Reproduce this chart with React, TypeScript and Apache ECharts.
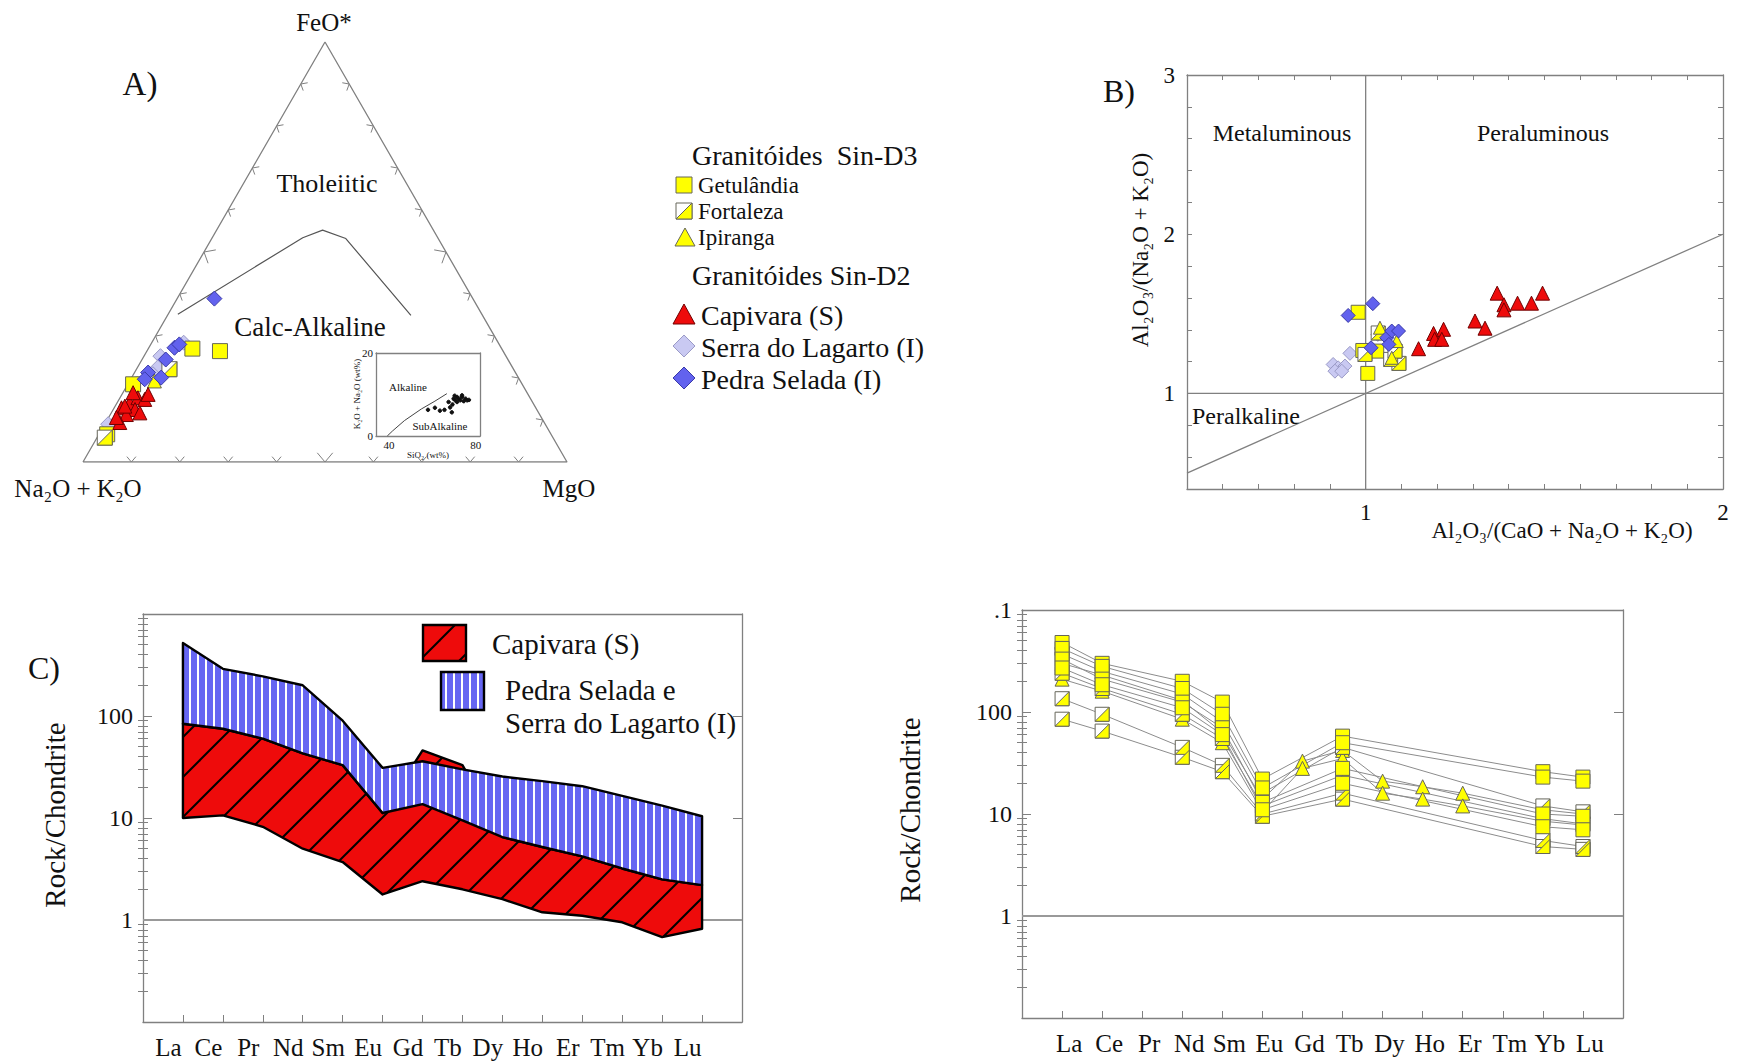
import React, { useEffect, useRef } from 'react';
import * as echarts from 'echarts';

const FONT = '"Liberation Serif", "Times New Roman", Times, serif';
const INK = '#111111';
const FRAME = '#808080';
const YELLOW = '#ffff00';
const YELLOW_EDGE = '#66665a';
const RED = '#ee0b0b';
const RED_EDGE = '#700000';
const BLUE = '#6262ee';
const BLUE_EDGE = '#3a3aa8';
const LILAC = '#c9c9f2';
const LILAC_EDGE = '#9a9ac6';
const BAND_BLUE = '#6666f2';

// ===== Panel A: AFM ternary, points as [A = Na2O+K2O, F = FeO*, M = MgO] in % =====
const AFM_VERTICES = [[100, 0, 0], [0, 0, 100], [0, 100, 0], [100, 0, 0]];
const AFM_TICKS = [0.1, 0.2, 0.3, 0.4, 0.5, 0.6, 0.7, 0.8, 0.9];
const AFM_BOUNDARY = [[62.8, 35.2, 2.0], [27.9, 53.4, 18.7], [22.9, 55.2, 21.9], [19.1, 53.2, 27.7], [14.8, 34.9, 50.3]];
const AFM_GETULANDIA = [[63.9, 27.0, 9.1], [58.5, 26.4, 15.1], [80.4, 18.5, 1.1], [91.7, 6.6, 1.7]];
const AFM_FORTALEZA = [[71.1, 22.1, 6.8], [92.6, 5.8, 1.6]];
const AFM_IPIRANGA = [[75.6, 19.3, 5.1]];
const AFM_CAPIVARA = [[85.6, 12.9, 1.5], [83.3, 14.1, 2.6], [81.0, 15.3, 3.7], [79.8, 14.9, 5.3], [83.0, 12.5, 4.5], [85.4, 11.3, 3.3], [87.7, 9.4, 2.9], [82.4, 11.7, 5.9], [84.7, 13.3, 2.0], [81.4, 16.5, 2.1], [78.5, 16.1, 5.4], [87.8, 10.6, 1.6]];
const AFM_SERRA = [[65.0, 28.4, 6.6], [71.4, 25.2, 3.4], [73.3, 22.5, 4.2], [75.1, 20.9, 4.0], [90.3, 9.0, 0.7]];
const AFM_PEDRA = [[53.4, 38.9, 7.7], [67.5, 27.2, 5.3], [66.1, 28.0, 5.9], [70.7, 24.4, 4.9], [73.8, 20.1, 6.1], [75.9, 21.3, 2.8], [77.4, 19.7, 2.9]];

// inset TAS (SiO2 vs K2O+Na2O)
const TAS_DIVIDER = [[39.2, 0], [41.6, 1.2], [47.1, 3.7], [54.9, 6.5], [61.2, 8.4], [66.7, 10.2]];
const TAS_SAMPLES = [[58.0, 6.3], [61.2, 6.8], [63.5, 6.1], [65.6, 6.3], [68.2, 6.9], [69.0, 5.7], [67.5, 8.2], [69.3, 7.6], [69.8, 9.0], [70.6, 8.6], [71.4, 8.2], [72.2, 9.0], [72.9, 8.6], [73.7, 9.4], [74.5, 8.4], [75.3, 9.0], [76.1, 8.6], [76.9, 8.7], [73.7, 9.8], [71.4, 9.4], [70.3, 9.7]];
const TAS_X_LABELS = [40, 80];

// ===== Panel B: A/CNK vs A/NK =====
const ASI_VERTICAL = [[1, 0.4], [1, 3]];
const ASI_HORIZONTAL = [[0.5, 1], [2, 1]];
const ASI_DIAGONAL = [[0.5, 0.5], [2, 2]];
const ASI_X_LABELS = [1, 2];
const ASI_Y_LABELS = [1, 2, 3];
const ASI_CAPIVARA = [[1.148, 1.281], [1.19, 1.377], [1.218, 1.403], [1.193, 1.34], [1.213, 1.34], [1.306, 1.455], [1.334, 1.41], [1.368, 1.63], [1.387, 1.557], [1.387, 1.525], [1.425, 1.567], [1.464, 1.567], [1.495, 1.63]];
const ASI_PEDRA = [[0.951, 1.49], [1.02, 1.564], [1.015, 1.287], [1.059, 1.35], [1.073, 1.392], [1.092, 1.392], [1.065, 1.308]];
const ASI_SERRA = [[0.909, 1.182], [0.923, 1.161], [0.942, 1.172], [0.956, 1.252], [0.914, 1.14], [0.933, 1.14], [1.034, 1.371]];
const ASI_GETULANDIA = [[0.979, 1.51], [1.006, 1.126], [0.992, 1.27], [1.031, 1.266]];
const ASI_FORTALEZA = [[1.035, 1.38], [1.07, 1.214], [1.093, 1.189], [0.998, 1.245], [1.082, 1.266]];
const ASI_IPIRANGA = [[1.04, 1.413], [1.087, 1.329], [1.073, 1.224]];

// ===== Panels C and D: chondrite-normalised REE =====
const REE = ['La', 'Ce', 'Pr', 'Nd', 'Sm', 'Eu', 'Gd', 'Tb', 'Dy', 'Ho', 'Er', 'Tm', 'Yb', 'Lu'];
const UNIT_LINE = [[0, 1], [15, 1]];
const C_Y_LABELS = [1, 10, 100];
const D_Y_LABELS = [1, 10, 100, 1000];
const D_Y_TEXT = ['1', '10', '100', '.1'];
const LOG_DECADES = [0.1, 1, 10, 100, 1000];

const C_CAPIVARA_UPPER = [84, 75, 60, 43, 33, 11.2, 46, 33, 6.5, 5.2, 4.2, 3.2, 2.5, 2.2];
const C_CAPIVARA_LOWER = [10, 10.6, 8.2, 5.0, 3.7, 1.78, 2.4, 2.0, 1.6, 1.19, 1.1, 0.95, 0.68, 0.82];
const C_PEDRA_UPPER = [520, 290, 245, 200, 90, 31, 36, 30, 25.5, 23, 20.5, 16.5, 13.2, 10.4];
const C_PEDRA_LOWER = [84, 75, 60, 43, 33, 11.2, 13.7, 9.5, 6.5, 5.2, 4.2, 3.2, 2.5, 2.2];

const _ = null;
const D_GETULANDIA = [
  [480, 300, _, 200, 125, 22, _, 58, _, _, _, _, 26, 23],
  [420, 280, _, 170, 95, 18, _, 50, _, _, _, _, 23, 21],
  [330, 210, _, 125, 70, 13, _, 28, _, _, _, _, 10, 9.5],
  [270, 185, _, 110, 60, 11, _, 20, _, _, _, _, 7.5, 7],
];
const D_FORTALEZA = [
  [370, 250, _, 150, 80, 16, _, 45, _, _, _, _, 12, 10.5],
  [240, 170, _, 95, 55, 12, _, 24, _, _, _, _, 9, 8],
  [135, 95, _, 45, 30, 10, _, 16, _, _, _, _, 5.5, 4.8],
  [85, 65, _, 36, 26, 9.5, _, 14, _, _, _, _, 4.8, 4.5],
];
const D_IPIRANGA = [
  [300, 230, _, 130, 63, 14, 33, 42, 21, 18.5, 16, _, 11, 10],
  [210, 160, _, 85, 50, 10.5, 28, 35, 16, 14, 12, _, 8.5, 7.8],
];

// ---------- helpers ----------
const tern = (p: number[]) => [(p[2] + p[1] / 2) / 100, p[1] / 100];
const near = (a: number, b: number) => Math.abs(a - b) < 1e-6;
const pickLabel = (list: number[]) => (v: number) => (list.some((l) => near(v, l)) ? String(Math.round(v)) : '');
const toPoints = (rows: (number | null)[][]) => {
  const out: number[][] = [];
  rows.forEach((r) => r.forEach((v, i) => { if (v != null) out.push([i + 1, v]); }));
  return out;
};
const toLine = (r: (number | null)[]) => r.map((v, i) => (v == null ? null : [i + 1, v])).filter((p) => p) as number[][];
const HALF = 'path://M10,0L10,10L0,10Z';

function stripePattern() {
  const c = document.createElement('canvas');
  c.width = 8; c.height = 8;
  const g = c.getContext('2d')!;
  g.fillStyle = BAND_BLUE; g.fillRect(0, 0, 8, 8);
  g.fillStyle = '#ffffff'; g.fillRect(5, 0, 2, 8);
  return { image: c, repeat: 'repeat', imageWidth: 8, imageHeight: 8 };
}
function hatchPattern() {
  const s = 40;
  const c = document.createElement('canvas');
  c.width = s; c.height = s;
  const g = c.getContext('2d')!;
  g.fillStyle = RED; g.fillRect(0, 0, s, s);
  g.strokeStyle = '#000'; g.lineWidth = 2;
  [-1, 0, 1].forEach((k) => {
    g.beginPath(); g.moveTo(k * s - 2, s + 2); g.lineTo(k * s + s + 2, -2); g.stroke();
  });
  return { image: c, repeat: 'repeat', imageWidth: s, imageHeight: s };
}

const T = (text: string, x: number, y: number, size: number, align = 'center', rot = 0) => ({
  type: 'text', x, y, rotation: rot, silent: true, z: 50,
  style: { text, fill: INK, font: `${size}px ${FONT}`, align, textAlign: align, verticalAlign: 'middle', textVerticalAlign: 'middle' },
});

function buildOption() {
  const hatch = hatchPattern();
  const stripes = stripePattern();
  const aLine = { show: true, onZero: false, lineStyle: { color: FRAME, width: 1.3 } };
  const lab = (size: number, margin: number, extra = {}) => ({ fontSize: size, fontFamily: FONT, color: INK, margin, ...extra });
  const noSplit = { show: false };

  const minorLog: number[] = [];
  LOG_DECADES.slice(0, 4).forEach((d) => { for (let k = 2; k <= 9; k++) minorLog.push(k * d); });

  const logAxes = (g: number, labels: number[], fmt: (v: number) => string) => {
    const base = { gridIndex: g, type: 'log', logBase: 10, min: 0.1, max: 1000, splitLine: noSplit };
    return [
      { ...base, position: 'left', axisLine: aLine, axisTick: { inside: true, length: 9, customValues: LOG_DECADES, lineStyle: { color: FRAME } }, axisLabel: lab(24, 10, { customValues: labels, formatter: fmt }) },
      { ...base, position: 'left', axisLine: { show: false }, axisTick: { inside: true, length: 5, customValues: minorLog, lineStyle: { color: FRAME } }, axisLabel: { show: false } },
      { ...base, position: 'right', axisLine: aLine, axisTick: { inside: true, length: 9, customValues: LOG_DECADES, lineStyle: { color: FRAME } }, axisLabel: { show: false } },
      { ...base, position: 'right', axisLine: { show: false }, axisTick: { inside: true, length: 5, customValues: minorLog, lineStyle: { color: FRAME } }, axisLabel: { show: false } },
    ];
  };

  const grid = [
    { left: 83, top: 42, width: 484, height: 420 },
    { left: 376, top: 353, width: 104, height: 83 },
    { left: 1187, top: 75, width: 536, height: 414 },
    { left: 143, top: 614, width: 599, height: 408 },
    { left: 1022, top: 610, width: 601, height: 408 },
  ];

  const reeFmt = (v: number) => REE[Math.round(v) - 1] || '';
  const xAxis = [
    { gridIndex: 0, type: 'value', min: 0, max: 1, show: false },
    { gridIndex: 1, type: 'value', min: 34, max: 82, interval: 2, position: 'bottom', axisLine: aLine, axisTick: { show: false }, splitLine: noSplit, axisLabel: lab(11, 3, { formatter: pickLabel(TAS_X_LABELS) }) },
    { gridIndex: 1, type: 'value', min: 34, max: 82, position: 'top', axisLine: aLine, axisTick: { show: false }, splitLine: noSplit, axisLabel: { show: false } },
    { gridIndex: 2, type: 'value', min: 0.5, max: 2, interval: 0.1, position: 'bottom', axisLine: aLine, axisTick: { inside: true, length: 5, lineStyle: { color: FRAME } }, splitLine: noSplit, axisLabel: lab(23, 12, { formatter: pickLabel(ASI_X_LABELS) }) },
    { gridIndex: 2, type: 'value', min: 0.5, max: 2, interval: 0.1, position: 'top', axisLine: aLine, axisTick: { inside: true, length: 5, lineStyle: { color: FRAME } }, splitLine: noSplit, axisLabel: { show: false } },
    { gridIndex: 3, type: 'value', min: 0, max: 15, interval: 1, position: 'bottom', axisLine: aLine, axisTick: { inside: true, length: 7, lineStyle: { color: FRAME } }, splitLine: noSplit, axisLabel: lab(25, 13, { formatter: reeFmt, padding: [0, 29, 0, 0] }) },
    { gridIndex: 3, type: 'value', min: 0, max: 15, position: 'top', axisLine: aLine, axisTick: { show: false }, splitLine: noSplit, axisLabel: { show: false } },
    { gridIndex: 4, type: 'value', min: 0, max: 15, interval: 1, position: 'bottom', axisLine: aLine, axisTick: { inside: true, length: 7, lineStyle: { color: FRAME } }, splitLine: noSplit, axisLabel: lab(25, 13, { formatter: reeFmt, padding: [0, 0, 0, 14] }) },
    { gridIndex: 4, type: 'value', min: 0, max: 15, position: 'top', axisLine: aLine, axisTick: { show: false }, splitLine: noSplit, axisLabel: { show: false } },
  ];

  const cFmt = (v: number) => (C_Y_LABELS.some((l) => near(v, l)) ? String(Math.round(v)) : '');
  const dFmt = (v: number) => {
    const i = D_Y_LABELS.findIndex((l) => Math.abs(v - l) < 1e-6 * l);
    return i >= 0 ? D_Y_TEXT[i] : '';
  };
  const yAxis = [
    { gridIndex: 0, type: 'value', min: 0, max: 1, show: false },
    { gridIndex: 1, type: 'value', min: 0, max: 20, interval: 20, position: 'left', axisLine: aLine, axisTick: { show: false }, splitLine: noSplit, axisLabel: lab(11, 3) },
    { gridIndex: 1, type: 'value', min: 0, max: 20, position: 'right', axisLine: aLine, axisTick: { show: false }, splitLine: noSplit, axisLabel: { show: false } },
    { gridIndex: 2, type: 'value', min: 0.4, max: 3, interval: 0.2, position: 'left', axisLine: aLine, axisTick: { inside: true, length: 5, lineStyle: { color: FRAME } }, splitLine: noSplit, axisLabel: lab(23, 12, { formatter: pickLabel(ASI_Y_LABELS) }) },
    { gridIndex: 2, type: 'value', min: 0.4, max: 3, interval: 0.2, position: 'right', axisLine: aLine, axisTick: { inside: true, length: 5, lineStyle: { color: FRAME } }, splitLine: noSplit, axisLabel: { show: false } },
    ...logAxes(3, C_Y_LABELS, cFmt),
    ...logAxes(4, D_Y_LABELS, dFmt),
  ];

  const sc = (xi: number, yi: number, data: number[][], symbol: string, size: number, color: string, edge: string) => ({
    type: 'scatter', xAxisIndex: xi, yAxisIndex: yi, data, symbol, symbolSize: size, silent: true, z: 5,
    itemStyle: { color, borderColor: edge, borderWidth: 1, opacity: 1 },
  });
  const ln = (xi: number, yi: number, data: number[][], color: string, width: number, z = 2) => ({
    type: 'line', xAxisIndex: xi, yAxisIndex: yi, data, symbol: 'none', silent: true, z,
    lineStyle: { color, width }, emphasis: { disabled: true },
  });

  const TRI = [[0, 0], [1, 0], [0.5, 1]];
  const tickData: number[][] = [];
  [0, 1, 2].forEach((e) => AFM_TICKS.forEach((t) => tickData.push([e, t])));

  const series: any[] = [];
  // ---- Panel A
  series.push(ln(0, 0, AFM_VERTICES.map(tern), FRAME, 1.3, 1));
  series.push({
    type: 'custom', xAxisIndex: 0, yAxisIndex: 0, data: tickData, silent: true, z: 1,
    renderItem: (params: any, api: any) => {
      const e = api.value(0), t = api.value(1);
      const a = TRI[e], b = TRI[(e + 1) % 3];
      const p = api.coord([a[0] + (b[0] - a[0]) * t, a[1] + (b[1] - a[1]) * t]);
      const pa = api.coord(a), pb = api.coord(b), c = api.coord([0.5, 1 / 3]);
      let dx = pb[0] - pa[0], dy = pb[1] - pa[1];
      const L = Math.hypot(dx, dy); dx /= L; dy /= L;
      let nx = -dy, ny = dx;
      if ((c[0] - p[0]) * nx + (c[1] - p[1]) * ny < 0) { nx = -nx; ny = -ny; }
      const len = near(t, 0.5) ? 12 : 7;
      const ang = 0.7;
      const arm = (s: number) => [p[0] + len * (nx * Math.cos(ang) + s * dx * Math.sin(ang)), p[1] + len * (ny * Math.cos(ang) + s * dy * Math.sin(ang))];
      return { type: 'polyline', shape: { points: [arm(-1), p, arm(1)] }, style: { stroke: FRAME, lineWidth: 1, fill: 'none' } };
    },
  });
  series.push(ln(0, 0, AFM_BOUNDARY.map(tern), '#555', 1.2));
  series.push(sc(0, 0, AFM_SERRA.map(tern), 'diamond', 15, LILAC, LILAC_EDGE));
  series.push(sc(0, 0, AFM_GETULANDIA.map(tern), 'rect', 15, YELLOW, YELLOW_EDGE));
  series.push(sc(0, 0, AFM_FORTALEZA.map(tern), 'rect', 15, '#ffffff', YELLOW_EDGE));
  series.push(sc(0, 0, AFM_FORTALEZA.map(tern), HALF, 15, YELLOW, YELLOW_EDGE));
  series.push(sc(0, 0, AFM_IPIRANGA.map(tern), 'triangle', 14, YELLOW, YELLOW_EDGE));
  series.push(sc(0, 0, AFM_CAPIVARA.map(tern), 'triangle', 14, RED, RED_EDGE));
  series.push(sc(0, 0, AFM_PEDRA.map(tern), 'diamond', 15, BLUE, BLUE_EDGE));
  // inset
  series.push(ln(1, 1, TAS_DIVIDER, '#444', 1));
  series.push(sc(1, 1, TAS_SAMPLES, 'circle', 3.5, '#111', '#111'));

  // ---- Panel B
  series.push(ln(3, 3, ASI_VERTICAL, FRAME, 1.3));
  series.push(ln(3, 3, ASI_HORIZONTAL, FRAME, 1.3));
  series.push(ln(3, 3, ASI_DIAGONAL, FRAME, 1.3));
  series.push(sc(3, 3, ASI_SERRA, 'diamond', 14, LILAC, LILAC_EDGE));
  series.push(sc(3, 3, ASI_GETULANDIA, 'rect', 14, YELLOW, YELLOW_EDGE));
  series.push(sc(3, 3, ASI_FORTALEZA, 'rect', 14, '#ffffff', YELLOW_EDGE));
  series.push(sc(3, 3, ASI_FORTALEZA, HALF, 14, YELLOW, YELLOW_EDGE));
  series.push(sc(3, 3, ASI_IPIRANGA, 'triangle', 13, YELLOW, YELLOW_EDGE));
  series.push(sc(3, 3, ASI_PEDRA, 'diamond', 14, BLUE, BLUE_EDGE));
  series.push(sc(3, 3, ASI_CAPIVARA, 'triangle', 14, RED, RED_EDGE));

  // ---- Panel C
  const band = (upper: number[], lower: number[], fill: any) => ({
    type: 'custom', xAxisIndex: 5, yAxisIndex: 5, data: [[1, 1]], silent: true, z: 3,
    renderItem: (params: any, api: any) => {
      const pts: number[][] = [];
      upper.forEach((v, i) => pts.push(api.coord([i + 1, v])));
      for (let i = lower.length - 1; i >= 0; i--) pts.push(api.coord([i + 1, lower[i]]));
      return { type: 'polygon', shape: { points: pts }, style: { fill, stroke: '#000', lineWidth: 2.4, lineJoin: 'round' } };
    },
  });
  series.push(ln(5, 5, UNIT_LINE, '#999', 2));
  series.push(band(C_CAPIVARA_UPPER, C_CAPIVARA_LOWER, hatch));
  series.push(band(C_PEDRA_UPPER, C_PEDRA_LOWER, stripes));

  // ---- Panel D
  series.push(ln(7, 9, UNIT_LINE, '#999', 2));
  [...D_IPIRANGA, ...D_FORTALEZA, ...D_GETULANDIA].forEach((r) => series.push(ln(7, 9, toLine(r), '#8c8c8c', 1, 3)));
  series.push(sc(7, 9, toPoints(D_IPIRANGA), 'triangle', 14, YELLOW, YELLOW_EDGE));
  series.push(sc(7, 9, toPoints(D_FORTALEZA), 'rect', 14, '#ffffff', YELLOW_EDGE));
  series.push(sc(7, 9, toPoints(D_FORTALEZA), HALF, 14, YELLOW, YELLOW_EDGE));
  series.push(sc(7, 9, toPoints(D_GETULANDIA), 'rect', 14, YELLOW, YELLOW_EDGE));

  const graphic: any[] = [
    // Panel A texts
    T('FeO*', 324, 22, 25),
    T('A)', 140, 84, 33),
    T('Tholeiitic', 327, 183, 26),
    T('Calc-Alkaline', 310, 327, 27),
    T('Na₂O + K₂O', 78, 488, 25),
    T('MgO', 569, 488, 25),
    T('Alkaline', 408, 387, 11),
    T('SubAlkaline', 440, 426, 11),
    T('K₂O + Na₂O (wt%)', 357, 394, 9, 'center', Math.PI / 2),
    T('SiO₂ (wt%)', 428, 455, 9),
    // Legend
    T('Granitóides  Sin-D3', 692, 155, 28, 'left'),
    { type: 'rect', shape: { x: 676, y: 177, width: 16, height: 16 }, style: { fill: YELLOW, stroke: YELLOW_EDGE, lineWidth: 1 }, silent: true },
    T('Getulândia', 698, 185, 23, 'left'),
    { type: 'rect', shape: { x: 676, y: 203, width: 16, height: 16 }, style: { fill: '#ffffff', stroke: YELLOW_EDGE, lineWidth: 1 }, silent: true },
    { type: 'polygon', shape: { points: [[692, 203], [692, 219], [676, 219]] }, style: { fill: YELLOW, stroke: YELLOW_EDGE, lineWidth: 1 }, silent: true },
    T('Fortaleza', 698, 211, 23, 'left'),
    { type: 'polygon', shape: { points: [[685, 228], [695, 246], [675, 246]] }, style: { fill: YELLOW, stroke: YELLOW_EDGE, lineWidth: 1 }, silent: true },
    T('Ipiranga', 698, 237, 23, 'left'),
    T('Granitóides Sin-D2', 692, 275, 28, 'left'),
    { type: 'polygon', shape: { points: [[684, 304], [695, 324], [673, 324]] }, style: { fill: RED, stroke: RED_EDGE, lineWidth: 1 }, silent: true },
    T('Capivara (S)', 701, 315, 28, 'left'),
    { type: 'polygon', shape: { points: [[684, 335], [695, 346], [684, 357], [673, 346]] }, style: { fill: LILAC, stroke: LILAC_EDGE, lineWidth: 1 }, silent: true },
    T('Serra do Lagarto (I)', 701, 347, 28, 'left'),
    { type: 'polygon', shape: { points: [[684, 367], [695, 378], [684, 389], [673, 378]] }, style: { fill: BLUE, stroke: BLUE_EDGE, lineWidth: 1 }, silent: true },
    T('Pedra Selada (I)', 701, 379, 28, 'left'),
    // Panel B texts
    T('B)', 1119, 91, 32),
    T('Metaluminous', 1282, 133, 24),
    T('Peraluminous', 1543, 133, 24),
    T('Peralkaline', 1192, 416, 24, 'left'),
    T('Al₂O₃/(CaO + Na₂O + K₂O)', 1562, 530, 23),
    T('Al₂O₃/(Na₂O + K₂O)', 1140, 250, 23, 'center', Math.PI / 2),
    // Panel C texts
    T('C)', 44, 668, 32),
    T('Rock/Chondrite', 55, 815, 29, 'center', Math.PI / 2),
    { type: 'rect', shape: { x: 423, y: 625, width: 43, height: 36 }, style: { fill: hatch, stroke: '#000', lineWidth: 2.4 }, silent: true, z: 40 },
    T('Capivara (S)', 492, 644, 29, 'left'),
    { type: 'rect', shape: { x: 441, y: 672, width: 43, height: 38 }, style: { fill: stripes, stroke: '#000', lineWidth: 2.4 }, silent: true, z: 40 },
    T('Pedra Selada e', 505, 690, 29, 'left'),
    T('Serra do Lagarto (I)', 505, 723, 29, 'left'),
    // Panel D texts
    T('Rock/Chondrite', 910, 810, 29, 'center', Math.PI / 2),
  ];

  return {
    animation: false,
    backgroundColor: '#ffffff',
    textStyle: { fontFamily: FONT },
    grid,
    xAxis,
    yAxis,
    series,
    graphic,
  };
}

export default function App() {
  const ref = useRef<HTMLDivElement>(null);
  useEffect(() => {
    if (!ref.current) return;
    const chart = echarts.init(ref.current, null, { renderer: 'svg' });
    chart.setOption(buildOption() as any);
    return () => chart.dispose();
  }, []);
  return <div ref={ref} style={{ position: 'fixed', left: 0, top: 0, width: 1740, height: 1064, background: '#fff' }} />;
}
